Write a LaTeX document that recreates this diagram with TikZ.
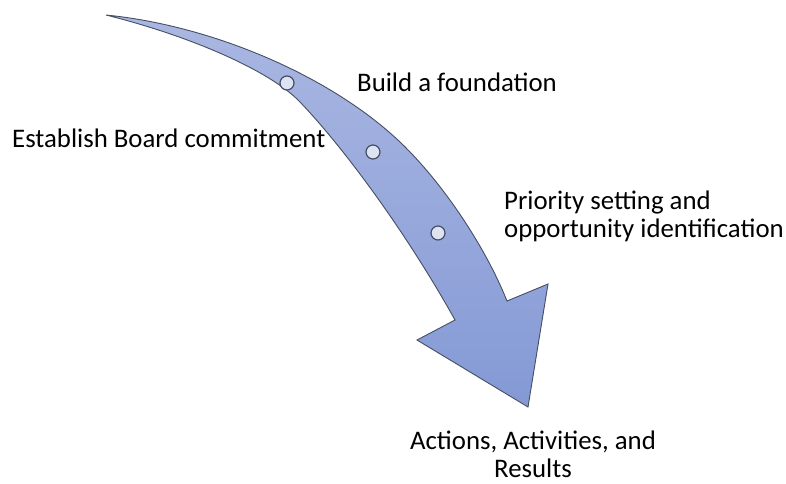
\documentclass[tikz,border=0pt]{standalone}
\usepackage{fontspec}
\setmainfont{Carlito}
\definecolor{arrowtop}{RGB}{170, 183, 226}
\definecolor{arrowbot}{RGB}{132, 153, 213}
\definecolor{arrowline}{RGB}{70, 78, 98}
\definecolor{dotfill}{RGB}{222, 227, 243}
\usepackage{tikz}
\usetikzlibrary{positioning}

\begin{document}
\begin{tikzpicture}[x=1pt, y=-1pt,
    lbl/.style={font=\fontsize{26.8}{28}\selectfont, inner sep=0pt},
    dot/.style={circle, draw=arrowline, fill=dotfill, line width=1.2pt, minimum size=14pt, inner sep=0pt}]
  \useasboundingbox (0,0) rectangle (786,483);

  % Curved arrow
  \path[draw=arrowline, line width=0.9pt, top color=arrowtop, bottom color=arrowbot]
    (106,15) .. controls (213.5,25.7) and (331.1,76.5) .. (400,142)
    .. controls (442,182) and (485,246) .. (507,301)
    -- (548,284) -- (528,407) -- (417,340) -- (455,320)
    .. controls (410.8,240.4) and (348.8,153.2) .. (300,102)
    .. controls (271.1,71.7) and (193.5,36.9) .. (106,15) -- cycle;

  % Steps on the arrow
  \node[dot] (d1) at (287,83) {};
  \node[dot] (d2) at (373,152) {};
  \node[dot] (d3) at (438,233) {};

  % Labels
  \node[lbl, anchor=base west] (board) at (12,147) {Establish Board commitment};
  \node[lbl, anchor=base west] (found) at (357,91) {Build a foundation};
  \node[lbl, anchor=base west, align=left] (prio) at (504,237) {Priority setting and\\opportunity identification};
  \node[lbl, anchor=base, align=center] (act) at (533,477) {Actions, Activities, and\\Results};
\end{tikzpicture}
\end{document}
